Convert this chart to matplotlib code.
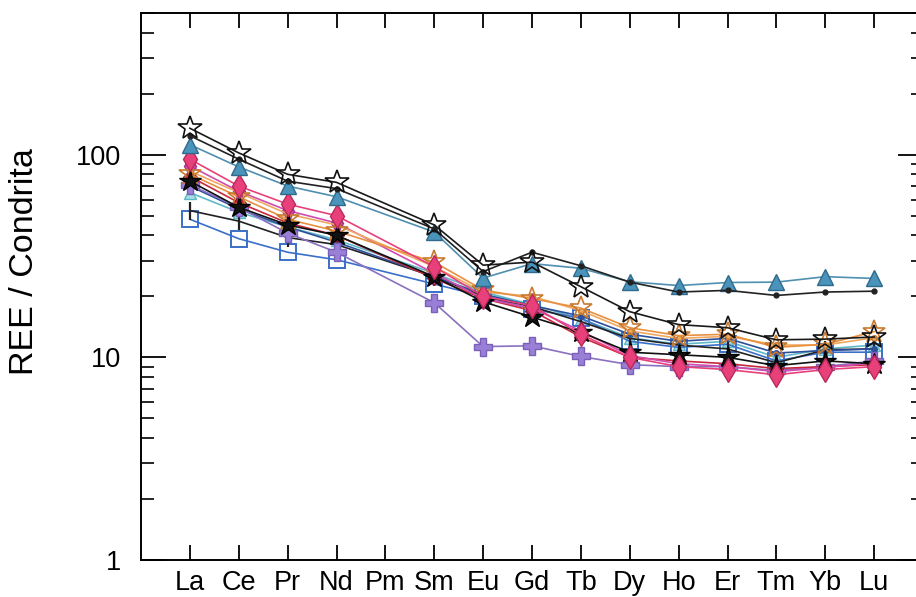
import numpy as np
import matplotlib
matplotlib.use("Agg")
import matplotlib.pyplot as plt
from matplotlib.ticker import FixedLocator, FixedFormatter, NullFormatter

plt.rcParams["font.family"] = ["Liberation Sans", "DejaVu Sans"]

# Rare-earth elements (Pm has no analyses; it only holds a tick)
elements = ["La", "Ce", "Pr", "Nd", "Pm", "Sm", "Eu", "Gd", "Tb", "Dy", "Ho", "Er", "Tm", "Yb", "Lu"]
measured = ["La", "Ce", "Pr", "Nd", "Sm", "Eu", "Gd", "Tb", "Dy", "Ho", "Er", "Tm", "Yb", "Lu"]

# Chondrite-normalised values, one list per sample (order follows `measured`)
s_star_open   = [135, 102, 80, 73, 45, 28.5, 29.5, 22.3, 16.8, 14.5, 14.0, 12.2, 12.3, 12.6]
s_black_dot   = [124, 95, 74, 68, 43, 26.5, 33, 28.3, 23.5, 21.0, 21.4, 20.2, 21.0, 21.2]
s_triangle    = [112, 87, 70, 62, 41.5, 24.6, 29.0, 27.5, 23.6, 22.6, 23.4, 23.5, 25.0, 24.5]
s_pink        = [95, 70, 57, 50, 28, 20.0, 18.0, 13.0, 10.0, 9.0, 8.7, 8.2, 8.7, 9.0]
s_magenta     = [88, 66, 53, 46, 26, 19.5, 17.5, 13.5, 10.2, 9.3, 9.0, 8.5, 8.9, 9.4]
s_orange      = [80, 62, 48, 42, 29.5, 21.5, 19.5, 17.5, 14.0, 12.8, 13.0, 11.2, 11.6, 13.4]
s_sandy       = [83, 65, 51, 45, 28, 21.0, 20.0, 17.0, 13.5, 12.4, 12.7, 11.5, 11.5, 12.5]
s_red         = [78, 58, 46, 40, 24.5, 19.5, 17.0, 12.6, 10.0, 9.6, 9.3, 8.8, 9.0, 9.2]
s_star_filled = [74, 55, 45, 40, 25, 18.8, 15.8, 13.3, 10.6, 10.3, 10.0, 9.1, 9.6, 9.3]
s_purple      = [71, 55, 41, 33, 18.6, 11.3, 11.4, 10.1, 9.2, 9.0, 9.0, 8.6, 9.0, 9.6]
s_navy        = [70, 54, 44, 37, 25, 20.5, 18.0, 16.0, 13.0, 12.0, 12.4, 10.5, 10.8, 11.0]
s_cyan        = [65, 52, 44, 38, 26, 21.0, 18.2, 15.5, 12.5, 11.6, 12.0, 10.0, 11.0, 11.5]
s_cross       = [53, 47, 39, 36, 25, 20.0, 17.8, 15.0, 12.4, 11.5, 11.0, 9.4, 10.9, 11.0]
s_square      = [48, 38.5, 33, 30.3, 23, 20.0, 17.3, 15.6, 12.0, 11.2, 11.6, 9.6, 10.6, 10.6]

series = [
    (s_cyan,        dict(color="#5fb8c8", marker="^", mfc="#a8dde6", mec="#5fb8c8", ms=9)),
    (s_square,      dict(color="#3a6fc8", marker="s", mfc="none", mec="#3a6fc8", ms=11, mew=1.4)),
    (s_cross,       dict(color="#222222", marker="|", mec="#222222", ms=13, mew=1.6)),
    (s_navy,        dict(color="#2e4f9a", marker="o", mfc="#2e4f9a", mec="#2e4f9a", ms=4)),
    (s_purple,      dict(color="#8a70c0", marker="P", mfc="#9a7fd6", mec="#7a60b8", ms=13)),
    (s_red,         dict(color="#c8283c", marker="D", mfc="#c8283c", mec="#8a1a2a", ms=7)),
    (s_magenta,     dict(color="#d04cb0", marker="d", mfc="#d050b8", mec="#a03090", ms=10)),
    (s_sandy,       dict(color="#f0a860", marker="o", mfc="#f0a860", mec="#c07830", ms=4)),
    (s_orange,      dict(color="#e89040", marker="*", mfc="none", mec="#c87a30", ms=17, mew=1.2)),
    (s_star_filled, dict(color="#111111", marker="*", mfc="#111111", mec="#000000", ms=16)),
    (s_pink,        dict(color="#e8407a", marker="d", mfc="#e8407a", mec="#b82a5a", ms=12)),
    (s_triangle,    dict(color="#4f8fb0", marker="^", mfc="#4a94bc", mec="#2f6a8a", ms=12)),
    (s_black_dot,   dict(color="#222222", marker="o", mfc="#222222", mec="#222222", ms=3.5)),
    (s_star_open,   dict(color="#1a1a1a", marker="*", mfc="none", mec="#111111", ms=18, mew=1.2)),
]

fig = plt.figure(figsize=(9.16, 5.97), dpi=100)
ax = fig.add_axes([141 / 916, 37 / 597, 782 / 916, 547 / 597])

xpos = [elements.index(e) for e in measured]
for values, style in series:
    ax.plot(xpos, values, lw=1.2, **style)

ax.set_yscale("log")
ax.set_ylim(1, 500)
ax.set_xlim(-1, 15)

ax.xaxis.set_major_locator(FixedLocator(range(len(elements))))
ax.set_xticklabels(elements)
ax.yaxis.set_major_locator(FixedLocator([1, 10, 100]))
ax.yaxis.set_major_formatter(FixedFormatter(["1", "10", "100"]))
minors = [m * 10 ** d for d in range(0, 3) for m in range(2, 10) if m * 10 ** d <= 500]
ax.yaxis.set_minor_locator(FixedLocator(minors))
ax.yaxis.set_minor_formatter(NullFormatter())
ax.xaxis.set_minor_locator(FixedLocator([]))

ax.tick_params(axis="x", which="major", direction="in", length=10.5, width=1.3,
               top=True, bottom=True, labelsize=19.5, pad=7)
ax.tick_params(axis="y", which="major", direction="in", length=18, width=1.3,
               left=True, right=True, labelsize=19.5, pad=14)
ax.tick_params(axis="y", which="minor", direction="in", length=9, width=1.2,
               left=True, right=True)

for sp in ax.spines.values():
    sp.set_linewidth(1.4)

ax.set_ylabel("REE / Condrita", fontsize=24.5, va="center")
ax.yaxis.set_label_coords(-0.149, 0.545)

fig.savefig("out.png", dpi=100)
